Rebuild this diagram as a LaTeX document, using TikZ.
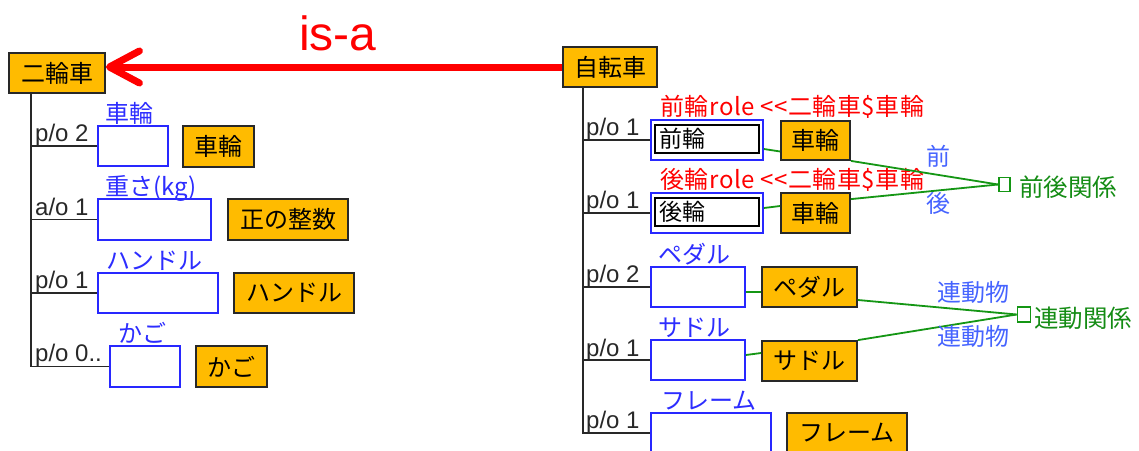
\documentclass[tikz,border=0pt]{standalone}
\usepackage{fontspec}
\setmainfont{Liberation Sans}
\newfontfamily\cjk{Noto Sans CJK JP}
\newfontfamily\cjkwide[LetterSpace=2.5]{Noto Sans CJK JP}
\usetikzlibrary{arrows.meta,calc}
\definecolor{orfill}{RGB}{255,187,0}
\definecolor{boxblue}{RGB}{40,40,255}
\definecolor{labblue}{RGB}{45,45,255}
\definecolor{roleblue}{RGB}{70,100,255}
\definecolor{lgreen}{RGB}{20,150,20}
\definecolor{tgreen}{RGB}{20,140,20}
\definecolor{isared}{RGB}{255,0,0}
\definecolor{treegray}{RGB}{40,40,40}
\tikzset{
  obox/.style={draw=treegray, line width=1.8pt, fill=orfill, inner sep=0pt, text=black, font=\cjk\fontsize{24}{24}\selectfont},
  bbox/.style={draw=boxblue, line width=1.8pt, fill=white, inner sep=0pt},
  ibox/.style={draw=black, line width=1.8pt, fill=white, inner xsep=4pt, inner ysep=0pt, text width=96pt, align=left, minimum height=28pt, font=\cjk\fontsize{23}{23}\selectfont},
  blab/.style={inner sep=0pt, anchor=base west, text=labblue, font=\cjk\fontsize{24}{24}\selectfont},
  rlab/.style={inner sep=0pt, anchor=base west, text=isared, font=\cjkwide\fontsize{24}{24}\selectfont},
  polab/.style={inner sep=0pt, anchor=base west, text=treegray, font=\fontsize{24}{24}\selectfont},
  tree/.style={draw=treegray, line width=1.8pt},
  grn/.style={draw=lgreen, line width=1.8pt},
  glab/.style={inner sep=0pt, anchor=west, text=tgreen, font=\cjk\fontsize{24.5}{24.5}\selectfont},
  rolelab/.style={inner sep=0pt, text=roleblue, font=\cjk\fontsize{24}{24}\selectfont},
  sqbox/.style={draw=lgreen, line width=1.8pt, fill=white, inner sep=0pt, minimum width=11pt, minimum height=14pt},
}
\begin{document}
\begin{tikzpicture}[x=1pt,y=-1pt]
\fill[white] (0,0) rectangle (1139,450);
\useasboundingbox (0,0) rectangle (1139,450);

% ---------- left: 二輪車 ----------
\node[obox, minimum width=96pt, minimum height=40pt] (n2) at (57,73) {二輪車};
\coordinate (t1) at (31,93);

\node[bbox, minimum width=70pt, minimum height=40pt] (b1) at (133,146) {};
\node[bbox, minimum width=113pt, minimum height=41pt] (b2) at (154.5,219.5) {};
\node[bbox, minimum width=120pt, minimum height=40pt] (b3) at (158,293) {};
\node[bbox, minimum width=70pt, minimum height=41pt] (b4) at (145,366.5) {};

\draw[tree] (t1) |- (b1.west);
\draw[tree] (t1) |- (b2.west);
\draw[tree] (t1) |- (b3.west);
\draw[tree] (t1) |- (b4.west);

\node[polab] (p1) at (35,141) {p/o 2};
\node[polab] (p2) at (35,215) {a/o 1};
\node[polab] (p3) at (35,288) {p/o 1};
\node[polab] (p4) at (35,361) {p/o 0..};

\node[blab] (l1) at (105,122) {車輪};
\node[blab] (l2) at (105,195) {重さ(kg)};
\node[blab] (l3) at (106,269) {ハンドル};
\node[blab] (l4) at (118,342) {かご};

\node[obox, minimum width=71pt, minimum height=41pt] (o1) at (218.5,146.5) {車輪};
\node[obox, minimum width=120pt, minimum height=41pt] (o2) at (288,219.5) {正の整数};
\node[obox, minimum width=120pt, minimum height=40pt] (o3) at (294,293) {ハンドル};
\node[obox, minimum width=71pt, minimum height=41pt] (o4) at (231.5,366.5) {かご};

% ---------- right: 自転車 ----------
\node[obox, minimum width=94pt, minimum height=40pt] (jt) at (610,67) {自転車};
\coordinate (t2) at (583,87);

\draw[isared, line width=7pt, -{Straight Barb[length=30pt,width=32pt,round]}] (jt.west) -- (jt.west -| n2.east);
\node[inner sep=0pt, anchor=base, text=isared, font=\fontsize{48}{48}\selectfont] (isa) at (338,50) {is-a};

\node[bbox, minimum width=112pt, minimum height=40pt] (r1) at (707,140) {};
\node[bbox, minimum width=112pt, minimum height=40pt] (r2) at (707,213) {};
\node[bbox, minimum width=94pt, minimum height=40pt] (r3) at (698,287) {};
\node[bbox, minimum width=94pt, minimum height=40pt] (r4) at (698,360) {};
\node[bbox, minimum width=120pt, minimum height=40pt] (r5) at (711,433) {};

\node[ibox] (i1) at (707,139) {前輪};
\node[ibox] (i2) at (707,212) {後輪};

\draw[tree] (t2) |- (r1.west);
\draw[tree] (t2) |- (r2.west);
\draw[tree] (t2) |- (r3.west);
\draw[tree] (t2) |- (r4.west);
\draw[tree] (t2) |- (r5.west);

\node[polab] (q1) at (586,135) {p/o 1};
\node[polab] (q2) at (586,208) {p/o 1};
\node[polab] (q3) at (586,282) {p/o 2};
\node[polab] (q4) at (586,356) {p/o 1};
\node[polab] (q5) at (586,428) {p/o 1};

\node[rlab] (rl1) at (660,115) {前輪role <\kern0pt<二輪車\$車輪};
\node[rlab] (rl2) at (660,188) {後輪role <\kern0pt<二輪車\$車輪};
\node[blab] (lp) at (658,263) {ペダル};
\node[blab] (ls) at (658,336) {サドル};
\node[blab] (lf) at (661,409) {フレーム};

\node[obox, minimum width=69pt, minimum height=39pt] (o5) at (815.5,140.5) {車輪};
\node[obox, minimum width=69pt, minimum height=40pt] (o6) at (815.5,213) {車輪};
\node[obox, minimum width=95pt, minimum height=40pt] (o7) at (809.5,287) {ペダル};
\node[obox, minimum width=95pt, minimum height=40pt] (o8) at (809.5,361) {サドル};
\node[obox, minimum width=120pt, minimum height=40pt] (o9) at (847,433) {フレーム};

% ---------- relations ----------
\node[sqbox] (sq1) at (1004.5,184.5) {};
\node[sqbox, minimum width=13pt, minimum height=15pt] (sq2) at (1024,314.5) {};

\draw[grn] ($(r1.east)+(0,9)$) -- ($(o5.west)+(0,11)$);
\draw[grn] ($(r2.east)+(0,-5)$) -- ($(o6.west)+(0,-7)$);
\draw[grn] ($(r3.east)+(0,5)$) -- ($(o7.west)+(0,5)$);
\draw[grn] ($(r4.east)+(0,-5)$) -- ($(o8.west)+(0,-8)$);
\draw[grn] (o5.south east) -- (sq1.west);
\draw[grn] ($(o6.north east)+(0,7)$) -- (sq1.west);
\draw[grn] ($(o7.east)+(0,13)$) -- (sq2.west);
\draw[grn] (o8.north east) -- (sq2.west);

\node[rolelab] (f1) at (938,156) {前};
\node[rolelab] (f2) at (938,203) {後};
\node[rolelab] (m1) at (973,292) {連動物};
\node[rolelab] (m2) at (973,336) {連動物};

\node[glab] (g1) at (1019,187) {前後関係};
\node[glab] (g2) at (1034,318) {連動関係};
\end{tikzpicture}
\end{document}
